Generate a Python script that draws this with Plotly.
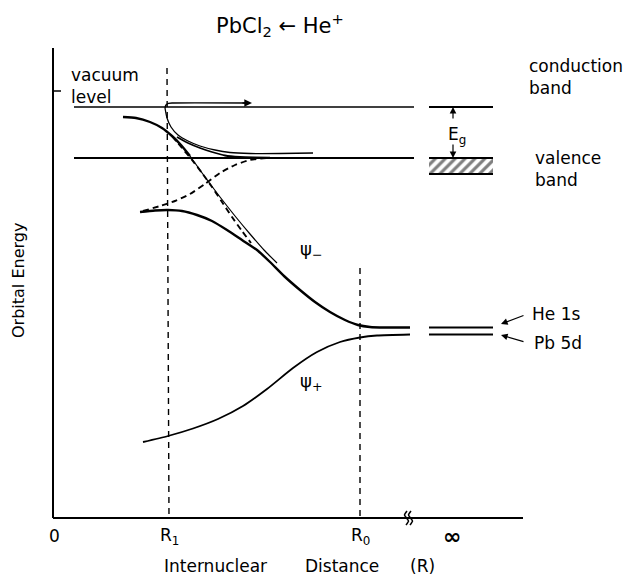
import plotly.graph_objects as go

# Schematic units: R along the internuclear axis, E = orbital energy (arbitrary units)
R_1 = 114
R_0 = 307
R_AXIS_END = 470
E_AXIS_TOP = 470

E_VACUUM = 411
E_VALENCE = 360
E_VALENCE_BOTTOM = 344
E_HE1S = 190.5
E_PB5D = 183.5

# horizontal extent of the level lines near the surface and at infinity
R_NEAR = [21, 361]
R_FAR = [376, 440]

# psi(-): He 1s-derived level rising as R decreases
psi_minus_R = [87, 102, 115, 129, 144, 159, 174, 189, 204, 217, 231, 247, 262, 277, 292, 305, 317, 332, 357]
psi_minus_E = [306, 307.5, 308, 307, 303, 297, 288, 278, 268, 256, 242, 228, 216, 206, 198, 193, 191, 190.5, 190.5]

# psi(+): Pb 5d-derived level falling as R decreases
psi_plus_R = [90, 115, 140, 165, 190, 214, 240, 264, 287, 307, 324, 357]
psi_plus_E = [76, 82, 89.5, 99, 112, 129, 150, 166, 176, 180.5, 182.5, 183.5]

# upper bent level near the vacuum level (heavy part, then thin continuation)
upper_R = [70, 83, 97, 109, 119, 128, 137]
upper_E = [401, 400, 396, 390, 382, 373, 362]
upper_thin_R = [137, 152, 167, 182, 197, 211, 224]
upper_thin_E = [362, 341, 321, 302, 284, 268, 255]

# diabatic (dashed) levels
diab1_R = [119, 129, 139, 149, 159, 169, 179, 189, 198]
diab1_E = [382, 370, 358, 345, 331, 316, 301, 287, 275]
diab2_R = [90, 107, 122, 137, 152, 167, 182, 197, 214]
diab2_E = [307, 312, 317, 324, 334, 345, 353, 358, 360]

# double line running from the R1 cusp into the valence band
cusp_a_R = [112, 114, 118, 125, 135, 147, 162, 177, 197, 227, 260]
cusp_a_E = [410, 400, 391, 383, 377, 372, 368, 365.5, 364.5, 364.5, 365]
cusp_b_R = [124, 135, 147, 159, 172, 187, 202, 217]
cusp_b_E = [381, 375, 370, 366, 362.5, 361, 360.5, 360.3]

# electron escaping over the vacuum level
escape_R = [112, 113, 115.5, 120, 196]
escape_E = [410, 413, 414.7, 415, 415]

# axis break marks
break1_R = [354, 351.5, 353.5, 355.5, 353]
break1_E = [7, 3, 0, -3, -7]
break2_R = [358, 355.5, 357.5, 359.5, 357]
break2_E = [7, 3, 0, -3, -7]

x_tick_pos = [1, 116, 307, 399]
x_tick_text = ["0", "R<sub>1</sub>", "R<sub>0</sub>", "<b>∞</b>"]
x_tick_size = [17, 17, 17, 22]

FONT = "DejaVu Sans"
INK = "black"

fig = go.Figure()


def line(xs, ys, width=1.5, dash="solid"):
    fig.add_trace(go.Scatter(x=xs, y=ys, mode="lines", hoverinfo="skip",
                             line=dict(color=INK, width=width, dash=dash, shape="spline", smoothing=0.6)))


# axes
line([0, 0], [0, E_AXIS_TOP], 2)
line([0, R_AXIS_END], [0, 0], 2)
line([0, 8], [427, 427], 1.5)
line(break1_R, break1_E, 1.5)
line(break2_R, break2_E, 1.5)

# R1 and R0 markers
line([R_1, R_1 + 2], [450, 0], 1.4, "6px,5px")
line([R_0, R_0], [250, 0], 1.4, "6px,5px")

# vacuum and valence band levels
line(R_NEAR, [E_VACUUM, E_VACUUM], 1.5)
line(R_FAR, [E_VACUUM, E_VACUUM], 1.8)
line(R_NEAR, [E_VALENCE, E_VALENCE], 1.8)
fig.add_trace(go.Scatter(
    x=[R_FAR[0], R_FAR[1], R_FAR[1], R_FAR[0], R_FAR[0]],
    y=[E_VALENCE_BOTTOM, E_VALENCE_BOTTOM, E_VALENCE, E_VALENCE, E_VALENCE_BOTTOM],
    mode="lines", fill="toself", fillcolor="white", hoverinfo="skip",
    line=dict(width=0, color=INK),
    fillpattern=dict(shape="/", size=7, solidity=0.45, fgcolor=INK, bgcolor="white")))
line(R_FAR, [E_VALENCE, E_VALENCE], 2.2)
line(R_FAR, [E_VALENCE_BOTTOM, E_VALENCE_BOTTOM], 2.2)

# He 1s / Pb 5d levels at infinity
line(R_FAR, [E_HE1S, E_HE1S], 2)
line(R_FAR, [E_PB5D, E_PB5D], 2)

# level curves
line(psi_minus_R, psi_minus_E, 2.4)
line(psi_plus_R, psi_plus_E, 1.8)
line(upper_R, upper_E, 2.4)
line(upper_thin_R, upper_thin_E, 1.2)
line(diab1_R, diab1_E, 1.9, "6px,4px")
line(diab2_R, diab2_E, 1.9, "6px,4px")
line(cusp_a_R, cusp_a_E, 1.3)
line(cusp_b_R, cusp_b_E, 1.8)
line(escape_R, escape_E, 1.4)


def arrow(x0, y0, x1, y1, width=1.2):
    fig.add_annotation(x=x1, y=y1, ax=x0, ay=y0, xref="x", yref="y", axref="x", ayref="y",
                       text="", showarrow=True, arrowhead=2, arrowsize=1.1,
                       arrowwidth=width, arrowcolor=INK)


arrow(188, 415, 199, 415, 1.4)
arrow(400, 398, 400, 411)
arrow(400, 375, 400, 360)
arrow(472, 203, 448, 194)
arrow(472, 176, 448, 183)


def label(x, y, text, size=17, anchor="left", angle=0):
    fig.add_annotation(x=x, y=y, xref="x", yref="y", text=text, showarrow=False,
                       xanchor=anchor, yanchor="middle", textangle=angle, align="left",
                       font=dict(family=FONT, size=size, color=INK))


label(227, 493, "PbCl<sub>2</sub> ← He<sup>+</sup>", 21, "center")
label(16, 432, "vacuum<br>level")
label(474, 441, "conduction<br>band")
label(480, 349, "valence<br>band")
label(404, 383, "E<sub>g</sub>", 17, "center")
label(477, 204, "He 1s")
label(479, 175, "Pb 5d")
label(258, 268, "ψ<sub>−</sub>", 18, "center")
label(258, 136, "ψ<sub>+</sub>", 18, "center")
for pos, txt, sz in zip(x_tick_pos, x_tick_text, x_tick_size):
    label(pos, -18, txt, sz, "center")
label(162, -48, "Internuclear", 17, "center")
label(289, -48, "Distance", 17, "center")
label(369, -48, "(R)", 17, "center")
label(-35, 237, "Orbital Energy", 16, "center", -90)

fig.update_layout(
    width=629, height=575,
    margin=dict(l=0, r=0, t=0, b=0),
    paper_bgcolor="white", plot_bgcolor="white",
    showlegend=False,
    xaxis=dict(range=[-53, 576], visible=False, fixedrange=True),
    yaxis=dict(range=[-57, 518], visible=False, fixedrange=True),
)

fig.write_html("out.html")
